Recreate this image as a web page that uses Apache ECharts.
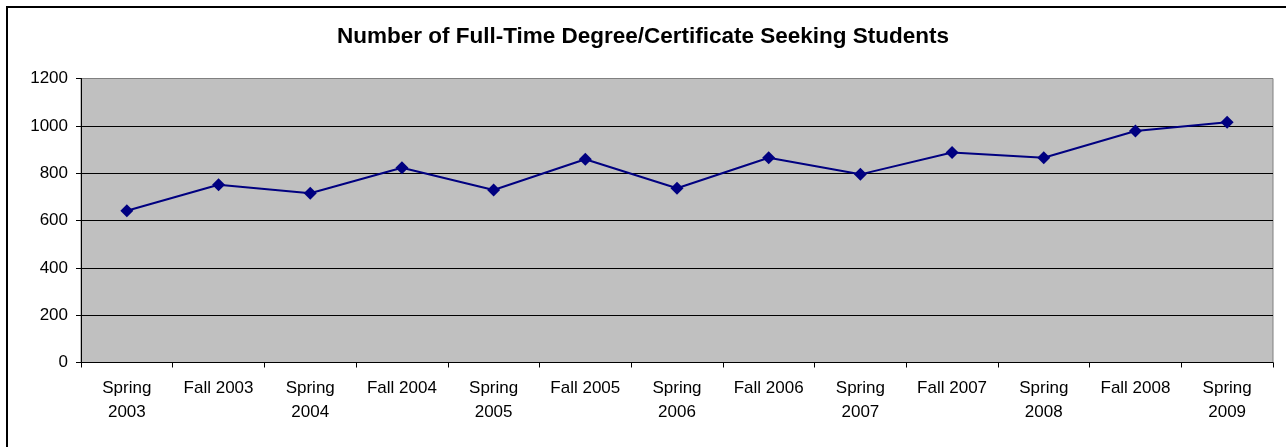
<!DOCTYPE html>
<html>
<head>
<meta charset="utf-8">
<script src="https://cdn.jsdelivr.net/npm/echarts@6/dist/echarts.min.js"></script>
<style>
  html, body { margin: 0; padding: 0; background: #fff; }
  #chart { width: 1286px; height: 447px; }
</style>
</head>
<body>
<div id="chart"></div>
<script>
// semester labels
const categories = [
  'Spring\n2003', 'Fall 2003', 'Spring\n2004', 'Fall 2004', 'Spring\n2005',
  'Fall 2005', 'Spring\n2006', 'Fall 2006', 'Spring\n2007', 'Fall 2007',
  'Spring\n2008', 'Fall 2008', 'Spring\n2009'
]
// full-time degree/certificate seeking students
const students = [641, 751, 715, 823, 729, 859, 736, 865, 795, 887, 865, 978, 1015]
const yTicks = { min: 0, max: 1200, interval: 200 }

const chart = echarts.init(document.getElementById('chart'))

const font = '"Liberation Sans", Arial, sans-serif'

chart.setOption({
  animation: false,
  title: {
    text: 'Number of Full-Time Degree/Certificate Seeking Students',
    left: 'center',
    top: 20,
    textStyle: { fontFamily: font, fontSize: 22.5, fontWeight: 'bold', color: '#000' },
  },
  graphic: [
    {
      type: 'rect',
      shape: { x: 7, y: 7, width: 1300, height: 460 },
      style: { fill: 'none', stroke: '#000', lineWidth: 2 },
      silent: true,
    },
  ],
  grid: {
    left: 81,
    right: 13,
    top: 78.5,
    bottom: 84.5,
    show: true,
    backgroundColor: '#C0C0C0',
    borderColor: '#808080',
    borderWidth: 1,
  },
  xAxis: {
    type: 'category',
    data: categories,
    boundaryGap: true,
    axisLine: { lineStyle: { color: '#000', width: 1 } },
    axisTick: { show: true, length: 5, alignWithLabel: false, lineStyle: { color: '#000' } },
    axisLabel: {
      interval: 0,
      margin: 14,
      color: '#000',
      fontFamily: font,
      fontSize: 17,
      lineHeight: 24,
    },
  },
  yAxis: {
    type: 'value',
    min: yTicks.min,
    max: yTicks.max,
    interval: yTicks.interval,
    axisLine: { show: true, lineStyle: { color: '#000', width: 1 } },
    axisTick: { show: true, length: 5, lineStyle: { color: '#000' } },
    axisLabel: {
      margin: 13,
      color: '#000',
      fontFamily: font,
      fontSize: 17,
      formatter: (v) => String(v),
    },
    splitLine: { show: true, showMaxLine: false, lineStyle: { color: '#000', width: 1 } },
  },
  series: [
    {
      type: 'line',
      data: students,
      symbol: 'diamond',
      symbolSize: 13,
      lineStyle: { color: '#000080', width: 2 },
      itemStyle: { color: '#000080' },
    },
  ],
})
</script>
</body>
</html>
